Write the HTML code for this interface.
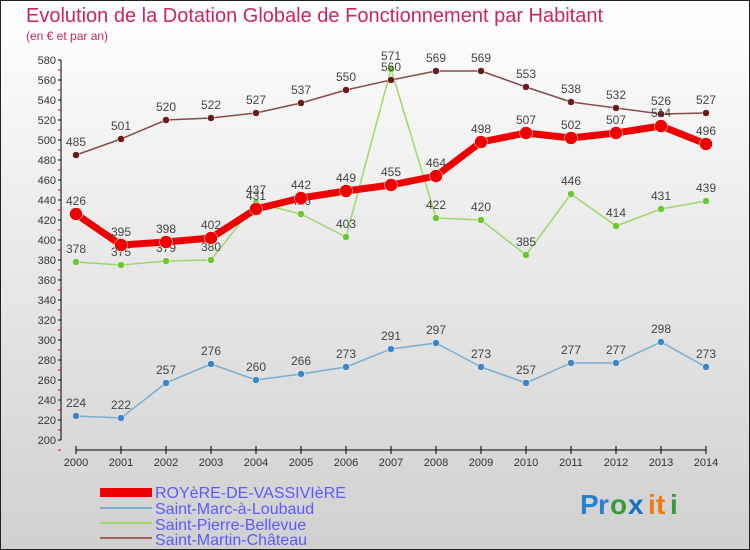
<!DOCTYPE html>
<html><head><meta charset="utf-8"><style>
body{margin:0}
#wrap{width:750px;height:550px;position:relative;overflow:hidden;font-family:"Liberation Sans",sans-serif}
</style></head><body>
<div id="wrap">
<svg id="chart" width="750" height="550" xmlns="http://www.w3.org/2000/svg">
<defs><linearGradient id="bg" x1="0" y1="0" x2="0" y2="1"><stop offset="0" stop-color="#ffffff"/><stop offset="1" stop-color="#d0d0d0"/></linearGradient></defs>
<rect x="0.5" y="0.5" width="749" height="549" fill="url(#bg)" stroke="#222"/>
<text x="26" y="22" font-size="20" fill="#c8285a">Evolution de la Dotation Globale de Fonctionnement par Habitant</text>
<text x="26" y="40" font-size="12" fill="#c8285a">(en € et par an)</text>
<g id="axes"></g><g id="series"></g>
<g>
<rect x="100" y="488" width="52" height="9" fill="#e00"/>
<text x="155" y="498" font-size="16" fill="#5a5aff">ROYèRE-DE-VASSIVIèRE</text>
<line x1="100" y1="508" x2="152" y2="508" stroke="#7aaed0" stroke-width="2"/>
<text x="155" y="514" font-size="16" fill="#5a5aff">Saint-Marc-à-Loubaud</text>
<line x1="100" y1="523" x2="152" y2="523" stroke="#9ed86a" stroke-width="2"/>
<text x="155" y="530" font-size="16" fill="#5a5aff">Saint-Pierre-Bellevue</text>
<line x1="100" y1="538" x2="152" y2="538" stroke="#9a6060" stroke-width="2"/>
<text x="155" y="545" font-size="16" fill="#5a5aff">Saint-Martin-Château</text>
</g>
<g font-size="28" font-weight="bold">
<text x="580" y="514" fill="#2a7fd0">P</text><text x="598" y="514" fill="#2a7fd0">r</text><text x="610" y="514" fill="#3a9a3a">o</text><text x="628" y="514" fill="#1a6fc0">x</text><text x="648" y="514" fill="#f07a10">i</text><text x="656" y="514" fill="#f07a10">t</text><text x="670" y="514" fill="#3a9a3a">i</text>
</g>
</svg></div>
<script>
const years=[2000,2001,2002,2003,2004,2005,2006,2007,2008,2009,2010,2011,2012,2013,2014];
const yTicks=[200,220,240,260,280,300,320,340,360,380,400,420,440,460,480,500,520,540,560,580];
const royere=[426,395,398,402,431,442,449,455,464,498,507,502,507,514,496];
const saintMarc=[224,222,257,276,260,266,273,291,297,273,257,277,277,298,273];
const saintPierre=[378,375,379,380,437,426,403,571,422,420,385,446,414,431,439];
const saintMartin=[485,501,520,522,527,537,550,560,569,569,553,538,532,526,527];
const NS="http://www.w3.org/2000/svg";
const xs=i=>76+i*45;
const ys=v=>440-(v-200);
function mk(tag,attrs,parent){const e=document.createElementNS(NS,tag);for(const k in attrs)e.setAttribute(k,attrs[k]);parent.appendChild(e);return e;}
const axes=document.getElementById('axes'),ser=document.getElementById('series');
let a=mk('line',{x1:61,y1:ys(580),x2:61,y2:ys(200),stroke:'#000'},axes);


yTicks.forEach(v=>{
 mk('line',{x1:58,y1:ys(v),x2:61,y2:ys(v),stroke:'#000'},axes);
 mk('line',{x1:58,y1:ys(v)+10,x2:61,y2:ys(v)+10,stroke:'#e00'},axes);
 const t=mk('text',{x:56,y:ys(v)+4,'font-size':11,'text-anchor':'end',fill:'#333'},axes);t.textContent=v;
 
 
});
a=mk('line',{x1:76,y1:450,x2:706,y2:450,stroke:'#000'},axes);


years.forEach((y,i)=>{
 mk('line',{x1:xs(i),y1:446,x2:xs(i),y2:454,stroke:'#000'},axes);
 const t=mk('text',{x:xs(i),y:466,'font-size':11,'text-anchor':'middle',fill:'#333'},axes);t.textContent=y;
 
 
});
function draw(name,data,color,w,r,dot){
 const g=mk('g',{},ser);
 
 
 mk('polyline',{points:data.map((v,i)=>xs(i)+','+ys(v)).join(' '),fill:'none',stroke:color,'stroke-width':w,'stroke-linejoin':'round'},g);
 data.forEach((v,i)=>{
  const c=mk('circle',{cx:xs(i),cy:ys(v),r:r,fill:dot,stroke:'#fff','stroke-width':0.5},g);
  
  
  const t=mk('text',{x:xs(i),y:ys(v)-9,'font-size':12,'text-anchor':'middle',fill:'#444'},g);t.textContent=v;
  
  
 });
}
draw('saint-marc',saintMarc,'#7aaed0',1.5,3.5,'#3a86c8');
draw('saint-pierre',saintPierre,'#9ed86a',1.5,3.5,'#6cc830');
draw('saint-martin',saintMartin,'#8a4a4a',1.5,3.5,'#6a1a1a');
draw('royere',royere,'#e00',7,6.5,'#e00');
</script>
</body></html>
